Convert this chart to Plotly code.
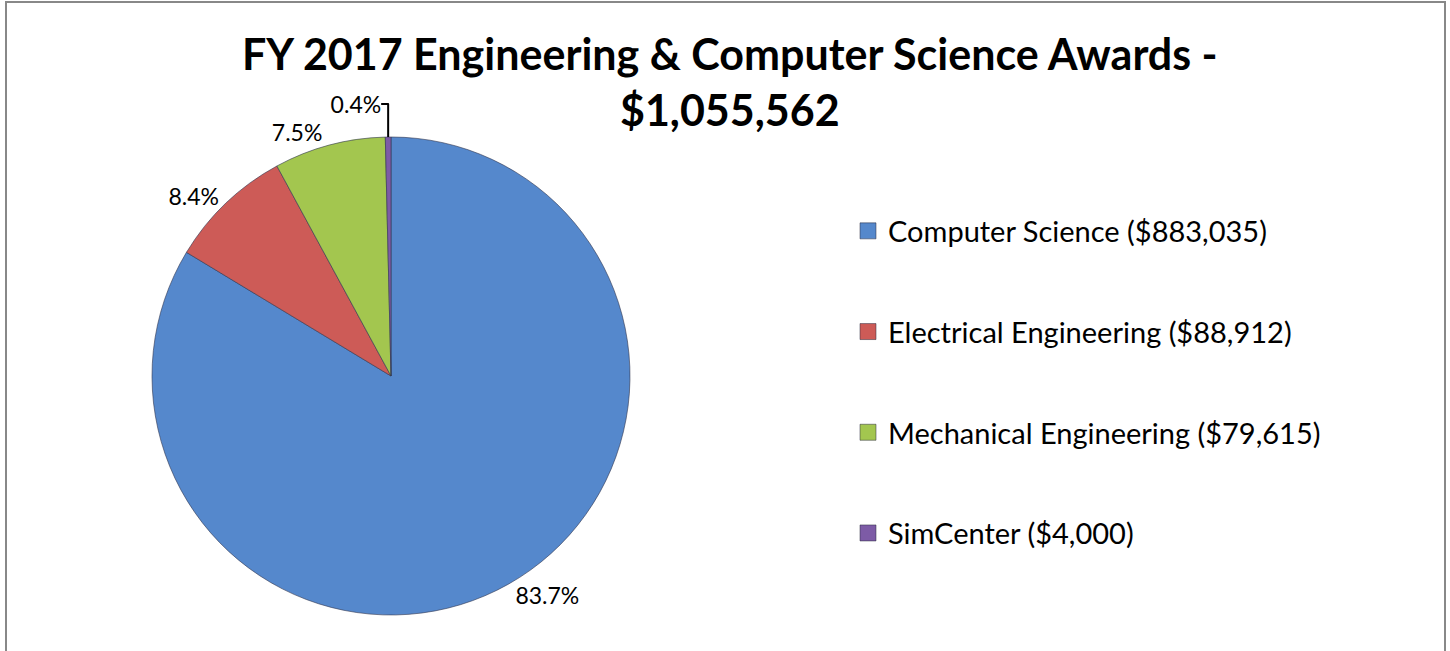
import plotly.graph_objects as go

# 数据
departments = ["Computer Science", "Electrical Engineering", "Mechanical Engineering", "SimCenter"]
awards = [883035, 88912, 79615, 4000]
colors = ["#5588CC", "#CD5B57", "#A3C64F", "#7D5BA6"]

total = sum(awards)
title_text = f"FY 2017 Engineering & Computer Science Awards -<br>${total:,}"
legend_names = [f"{d} (${v:,})" for d, v in zip(departments, awards)]

FONT = "Lato, 'Open Sans', sans-serif"
W, H = 1450, 651

fig = go.Figure()

fig.add_trace(go.Pie(
    labels=departments,
    values=awards,
    sort=False,
    direction="clockwise",
    rotation=0,
    marker=dict(colors=colors, line=dict(color="rgba(50,55,80,0.6)", width=1)),
    texttemplate="%{percent:.1%}",
    textposition="outside",
    textfont=dict(size=23, color="black", family=FONT),
    showlegend=False,
    hoverinfo="label+value+percent",
    domain=dict(x=[152 / W, 630 / W], y=[36 / H, 514 / H]),
))

# 图例（每项单独分组以拉开间距）
for name, c in zip(legend_names, colors):
    fig.add_trace(go.Scatter(
        x=[None], y=[None],
        mode="markers",
        marker=dict(symbol="square", size=18, color=c,
                    line=dict(color="rgba(40,40,60,0.5)", width=1)),
        name=name,
        legendgroup=name,
        showlegend=True,
    ))

fig.update_layout(
    width=W,
    height=H,
    margin=dict(l=0, r=0, t=0, b=0),
    paper_bgcolor="white",
    plot_bgcolor="white",
    font=dict(family=FONT, color="black"),
    xaxis=dict(visible=False),
    yaxis=dict(visible=False),
    legend=dict(
        x=848 / W, xanchor="left",
        y=(H - 382) / H, yanchor="middle",
        font=dict(size=29, family=FONT, color="black"),
        tracegroupgap=60,
        bgcolor="rgba(0,0,0,0)",
    ),
    annotations=[dict(
        text=title_text,
        xref="paper", yref="paper",
        x=730 / W, xanchor="center",
        y=(H - 26) / H, yanchor="top",
        showarrow=False,
        align="center",
        font=dict(size=43, family=FONT, color="black", weight="bold"),
    )],
    shapes=[dict(
        type="rect", xref="paper", yref="paper",
        x0=6 / W, x1=1445 / W, y0=-0.02, y1=(H - 2) / H,
        line=dict(color="#888888", width=2),
    )],
)

fig.write_html(
    "out.html",
    config={"displayModeBar": False},
    post_script="document.body.style.margin='0';document.body.style.overflow='hidden';",
)
